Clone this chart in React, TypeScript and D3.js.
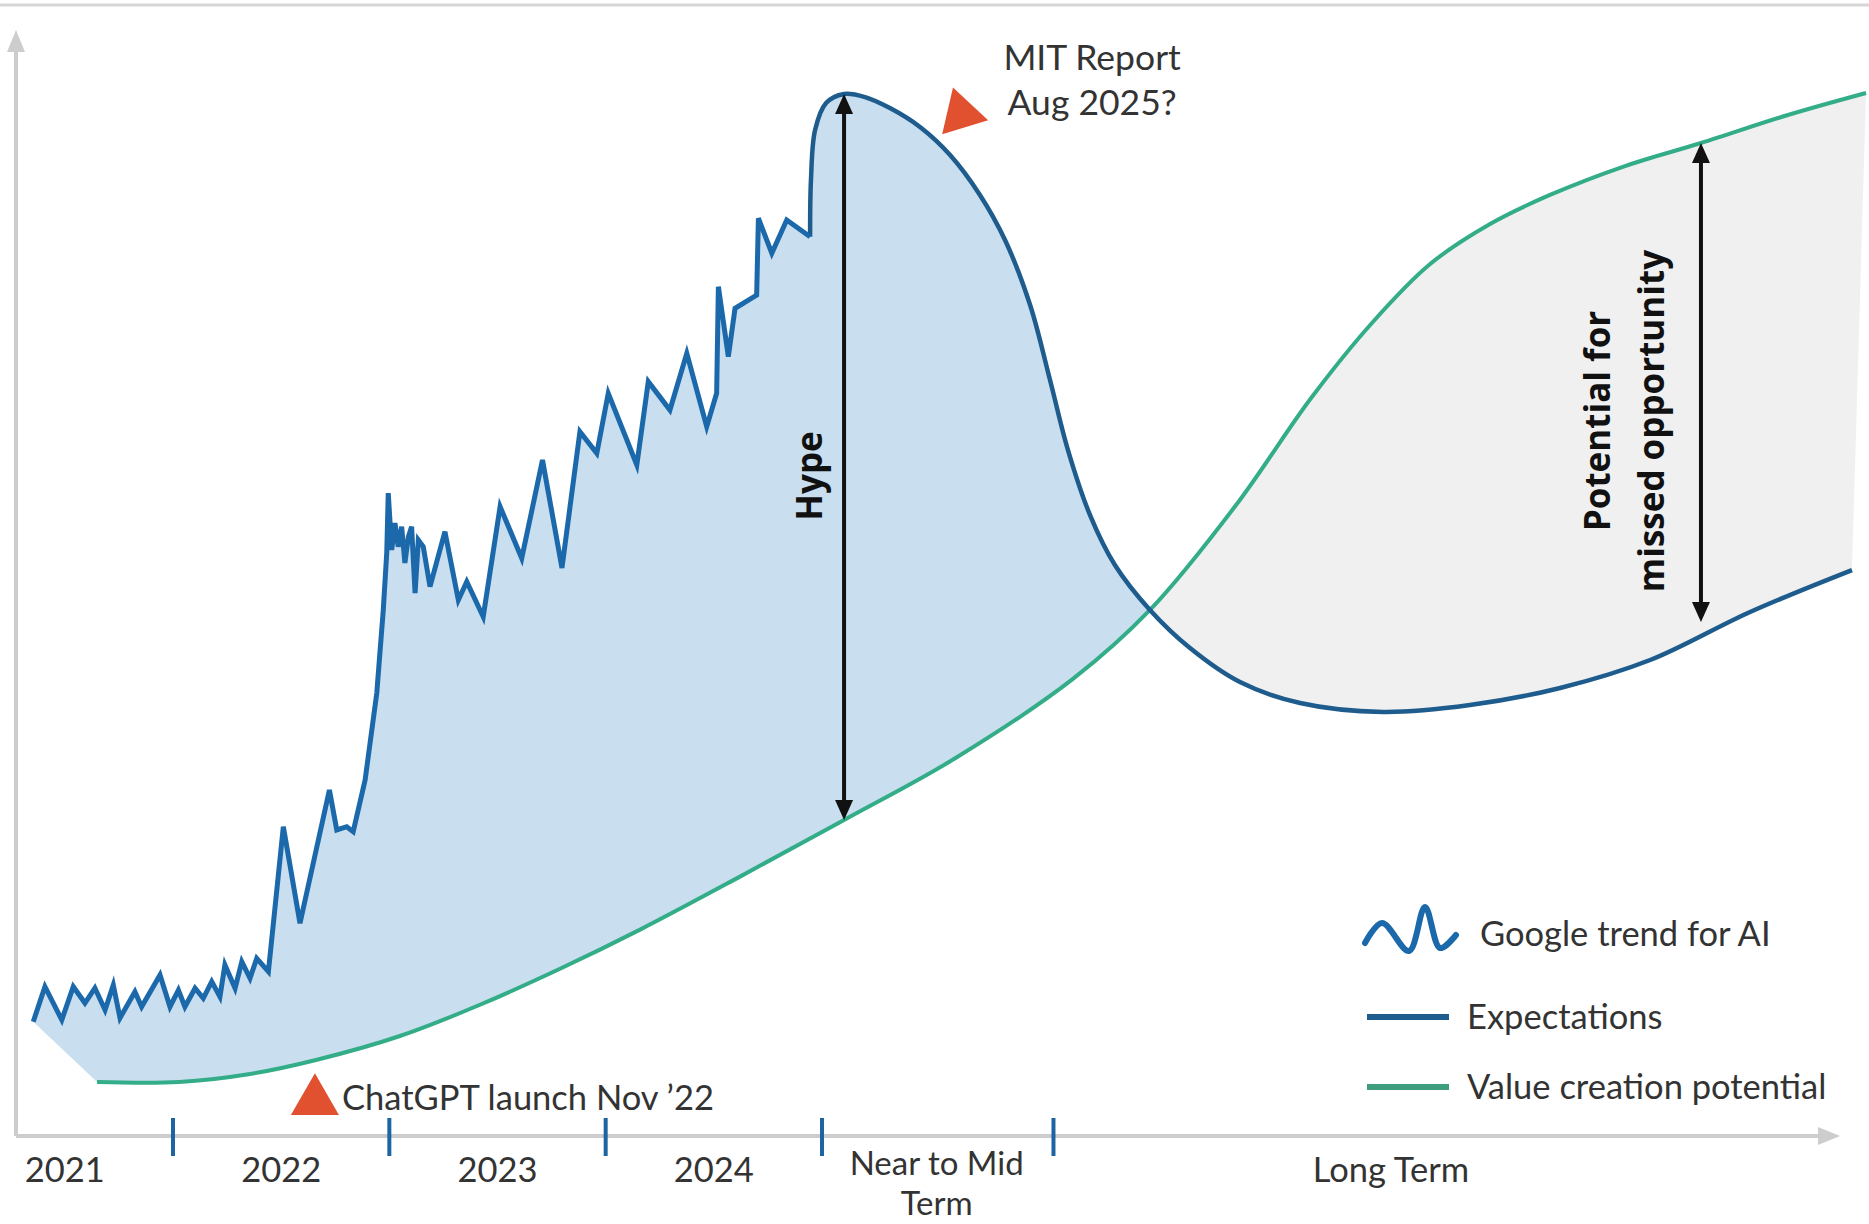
import React from 'react';
import * as d3 from 'd3';

const WIDTH = 1869;
const HEIGHT = 1224;

// Google trend for AI (year, relative level 0-100)
const googleTrend: [number, number][] = [
  [2021.354, 10.39], [2021.408, 13.57], [2021.486, 10.55], [2021.539, 13.57],
  [2021.593, 12.09], [2021.639, 13.45], [2021.686, 11.45], [2021.724, 13.73],
  [2021.755, 10.73], [2021.824, 13.12], [2021.855, 11.75], [2021.94, 14.64],
  [2021.986, 11.75], [2022.025, 13.27], [2022.055, 11.75], [2022.102, 13.43],
  [2022.14, 12.52], [2022.179, 14.03], [2022.217, 12.66], [2022.24, 15.55],
  [2022.287, 13.43], [2022.318, 15.85], [2022.356, 14.34], [2022.387, 16.15],
  [2022.441, 14.94], [2022.51, 28.12], [2022.587, 19.34], [2022.723, 31.45],
  [2022.757, 27.82], [2022.803, 28.12], [2022.833, 27.67], [2022.888, 32.36],
  [2022.942, 40.27], [2022.972, 47.82], [2022.988, 53.0], [2022.995, 58.45],
  [2023.011, 53.27], [2023.026, 55.73], [2023.041, 53.57], [2023.057, 55.39],
  [2023.072, 52.09], [2023.088, 54.48], [2023.103, 55.39], [2023.119, 49.36],
  [2023.134, 54.18], [2023.157, 53.57], [2023.188, 49.94], [2023.257, 54.94],
  [2023.319, 48.73], [2023.358, 50.39], [2023.434, 47.21], [2023.512, 57.21],
  [2023.612, 52.52], [2023.708, 61.45], [2023.798, 51.64], [2023.881, 64.03],
  [2023.959, 62.06], [2024.012, 67.52], [2024.144, 61.0], [2024.197, 68.58],
  [2024.297, 66.0], [2024.375, 71.15], [2024.467, 64.48], [2024.513, 67.52],
  [2024.521, 77.21], [2024.567, 70.85], [2024.598, 75.24], [2024.698, 76.45],
  [2024.706, 83.43], [2024.768, 80.25], [2024.837, 83.27], [2024.945, 81.75],
];

// Expectations (smooth), starting where the trend ends
const expectations: [number, number][] = [
  [2024.945, 81.75], [2024.949, 86.91], [2024.968, 91.45], [2025.019, 93.91],
  [2025.102, 94.73], [2025.199, 94.45], [2025.314, 93.45], [2025.453, 91.73],
  [2025.592, 89.18], [2025.73, 85.55], [2025.846, 81.45], [2025.962, 75.55],
  [2026.054, 68.73], [2026.137, 62.36], [2026.239, 56.45], [2026.354, 51.91],
  [2026.516, 47.82], [2026.701, 44.36], [2026.932, 41.27], [2027.21, 39.36],
  [2027.593, 38.55], [2027.995, 39.18], [2028.412, 40.73], [2028.828, 43.27],
  [2029.29, 47.64], [2029.761, 51.45],
];

// Value creation potential (smooth S-curve)
const valueCreation: [number, number][] = [
  [2021.649, 4.91], [2022.028, 4.91], [2022.356, 5.64], [2022.661, 6.91],
  [2023.049, 9.09], [2023.419, 11.93], [2023.789, 15.2], [2024.159, 18.76],
  [2024.621, 23.58], [2025.102, 28.73], [2025.61, 34.27], [2026.16, 41.55],
  [2026.516, 47.82], [2026.914, 57.36], [2027.261, 67.09], [2027.538, 73.82],
  [2027.811, 79.27], [2028.088, 82.91], [2028.365, 85.55], [2028.712, 88.18],
  [2029.063, 90.27], [2029.465, 92.82], [2029.826, 94.82],
];

const crossingYear = 2026.516;
const boundaryTicks = [2022, 2023, 2024, 2025, 2026.07];
const periodLabels: { lines: string[]; at: number }[] = [
  { lines: ['2021'], at: 2021.5 },
  { lines: ['2022'], at: 2022.5 },
  { lines: ['2023'], at: 2023.5 },
  { lines: ['2024'], at: 2024.5 },
  { lines: ['Near to Mid', 'Term'], at: 2025.53 },
  { lines: ['Long Term'], at: 2027.63 },
];
const hype = { year: 2025.102, from: 28.73, to: 94.73, labelAt: 60, label: 'Hype' };
const missed = { year: 2029.063, from: 46.73, to: 90.27, labelAt: 65, lines: ['Potential for', 'missed opportunity'] };
const events = [
  { year: 2022.656, value: 3.18, rotate: 0, lines: ['ChatGPT launch Nov \u201922'] },
  { year: 2025.643, value: 92.91, rotate: -17, lines: ['MIT Report', 'Aug 2025?'] },
];
const legendLabels = ['Google trend for AI', 'Expectations', 'Value creation potential'];

const C = {
  trend: '#1b69ab',
  exp: '#1e5c8d',
  value: '#33ad88',
  fillBlue: '#c9deef',
  fillGray: '#f0f0f0',
  axis: '#cdcdcd',
  tick: '#1d64a3',
  text: '#333333',
  red: '#e1502f',
};
const FONT = "Lato, 'Open Sans', sans-serif";
const BOLD = "'Open Sans', 'Noto Sans', sans-serif";
const FS = 34.5;

function VArrow({ px, y1, y2 }: { px: number; y1: number; y2: number }) {
  const hl = 20, hw = 9;
  const top = Math.min(y1, y2), bot = Math.max(y1, y2);
  return (
    <g>
      <line x1={px} x2={px} y1={top + hl - 2} y2={bot - hl + 2} stroke="#111" strokeWidth={4} />
      <path d={`M${px},${top} L${px - hw},${top + hl} L${px + hw},${top + hl} Z`} fill="#111" />
      <path d={`M${px},${bot} L${px - hw},${bot - hl} L${px + hw},${bot - hl} Z`} fill="#111" />
    </g>
  );
}

export default function App() {
  const x = d3.scaleLinear().domain([2022, 2025]).range([173, 822]);
  const y = d3.scaleLinear().domain([0, 100]).range([1136, 36]);
  const straight = d3.line<[number, number]>().x(d => x(d[0])).y(d => y(d[1]));
  const smooth = d3
    .line<[number, number]>()
    .x(d => x(d[0]))
    .y(d => y(d[1]))
    .curve(d3.curveCatmullRom.alpha(0.5));

  const trendD = straight(googleTrend) as string;
  const expD = smooth(expectations) as string;
  const valueD = smooth(valueCreation) as string;
  const valueRevD = smooth([...valueCreation].reverse()) as string;
  const regionD = trendD + expD.replace(/^M/, 'L') + valueRevD.replace(/^M/, 'L') + 'Z';
  const cx = x(crossingYear);

  const ox = 16;
  const oy = y(0);
  const xTip = 1840;
  const yTip = 30;

  const tri = d3.symbol(d3.symbolTriangle, 1000)() as string;

  const wave = d3
    .line<[number, number]>()
    .curve(d3.curveCatmullRom.alpha(0.5))([
      [0, 38], [17, 18], [44, 46], [60, 2], [75, 43], [91, 30],
    ]) as string;

  const legendX = 1367;
  const legendRows = [944, 1017, 1087];

  return (
    <svg
      width={WIDTH}
      height={HEIGHT}
      viewBox={`0 0 ${WIDTH} ${HEIGHT}`}
      style={{ position: 'absolute', left: 0, top: 0, background: '#fff' }}
    >
      <defs>
        <clipPath id="clipBlue">
          <rect x={0} y={0} width={cx} height={HEIGHT} />
        </clipPath>
        <clipPath id="clipGray">
          <rect x={cx} y={0} width={WIDTH - cx} height={HEIGHT} />
        </clipPath>
      </defs>
      <rect x={0} y={0} width={WIDTH} height={HEIGHT} fill="#fff" />
      <line x1={0} x2={WIDTH} y1={5} y2={5} stroke="#d6d6d6" strokeWidth={3} />

      {/* fills */}
      <path d={regionD} fill={C.fillBlue} clipPath="url(#clipBlue)" />
      <path d={regionD} fill={C.fillGray} clipPath="url(#clipGray)" />

      {/* axes */}
      <line x1={ox} x2={ox} y1={oy} y2={yTip + 18} stroke={C.axis} strokeWidth={4} />
      <path d={`M${ox},${yTip} L${ox - 9},${yTip + 22} L${ox + 9},${yTip + 22} Z`} fill={C.axis} />
      <line x1={ox} x2={xTip - 18} y1={oy} y2={oy} stroke={C.axis} strokeWidth={4} />
      <path d={`M${xTip},${oy} L${xTip - 22},${oy - 9} L${xTip - 22},${oy + 9} Z`} fill={C.axis} />
      {boundaryTicks.map(t => (
        <line key={t} x1={x(t)} x2={x(t)} y1={oy - 18} y2={oy + 20} stroke={C.tick} strokeWidth={4} />
      ))}
      {periodLabels.map(p => {
        const two = p.lines.length > 1;
        const fs = two ? 33 : FS;
        return (
          <text
            key={p.lines[0]}
            x={x(p.at)}
            y={two ? 1175 : 1182}
            textAnchor="middle"
            fontFamily={FONT}
            fontSize={fs}
            fill={C.text}
          >
            {p.lines.map((l, i) => (
              <tspan key={l} x={x(p.at)} dy={i === 0 ? 0 : 40}>{l}</tspan>
            ))}
          </text>
        );
      })}

      {/* lines */}
      <path d={valueD} fill="none" stroke={C.value} strokeWidth={4} />
      <path d={expD} fill="none" stroke={C.exp} strokeWidth={4.5} />
      <path d={trendD} fill="none" stroke={C.trend} strokeWidth={5} strokeLinejoin="miter" />

      {/* arrows */}
      <VArrow px={x(hype.year)} y1={y(hype.to)} y2={y(hype.from)} />
      <text
        transform={`translate(${x(hype.year) - 36},${y(hype.labelAt)}) rotate(-90)`}
        textAnchor="middle"
        dominantBaseline="central"
        fontFamily={BOLD}
        fontWeight={700}
        fontSize={35}
        fill="#111"
      >
        {hype.label}
      </text>
      <VArrow px={x(missed.year)} y1={y(missed.to)} y2={y(missed.from)} />
      {missed.lines.map((l, i) => (
        <text
          key={l}
          transform={`translate(${x(missed.year) - 104 + i * 54},${y(missed.labelAt)}) rotate(-90)`}
          textAnchor="middle"
          dominantBaseline="central"
          fontFamily={BOLD}
          fontWeight={700}
          fontSize={35}
          fill="#111"
        >
          {l}
        </text>
      ))}

      {/* events */}
      <g transform={`translate(${x(events[0].year)},${y(events[0].value)})`}>
        <path d={tri} fill={C.red} />
        <text x={27} y={9} fontFamily={FONT} fontSize={FS} fill={C.text}>
          {events[0].lines[0]}
        </text>
      </g>
      <g transform={`translate(${x(events[1].year)},${y(events[1].value)})`}>
        <path d={tri} fill={C.red} transform={`rotate(${events[1].rotate})`} />
        <text x={131} y={-44} textAnchor="middle" fontFamily={FONT} fontSize={FS + 1} fill={C.text}>
          {events[1].lines[0]}
        </text>
        <text x={131} y={1} textAnchor="middle" fontFamily={FONT} fontSize={FS + 1} fill={C.text}>
          {events[1].lines[1]}
        </text>
      </g>

      {/* legend */}
      <path d={wave} transform={`translate(${legendX - 2},${905})`} fill="none" stroke={C.trend} strokeWidth={6} strokeLinecap="round" />
      <text x={1480} y={legendRows[0] + 2} fontFamily={FONT} fontSize={FS} fill={C.text}>{legendLabels[0]}</text>
      <line x1={legendX} x2={legendX + 82} y1={legendRows[1]} y2={legendRows[1]} stroke={C.exp} strokeWidth={6} />
      <text x={1467} y={legendRows[1] + 12} fontFamily={FONT} fontSize={FS} fill={C.text}>{legendLabels[1]}</text>
      <line x1={legendX} x2={legendX + 82} y1={legendRows[2]} y2={legendRows[2]} stroke="#3f9e80" strokeWidth={6} />
      <text x={1467} y={legendRows[2] + 12} fontFamily={FONT} fontSize={FS} fill={C.text}>{legendLabels[2]}</text>
    </svg>
  );
}
